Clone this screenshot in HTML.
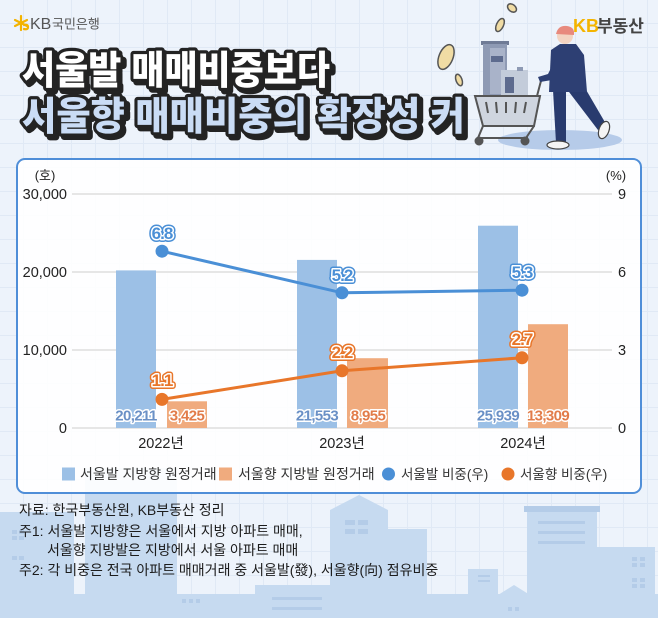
<!DOCTYPE html>
<html><head><meta charset="utf-8"><style>
html,body{margin:0;padding:0;background:#edf3fb;}
svg{display:block;}
text{font-family:"Liberation Sans","Noto Sans CJK KR",sans-serif;}
</style></head><body>
<svg width="658" height="618" viewBox="0 0 658 618" xmlns="http://www.w3.org/2000/svg">
<defs>
<pattern id="grid" width="24" height="24" patternUnits="userSpaceOnUse">
<rect width="24" height="24" fill="#edf3fb"/>
<path d="M23.5 0V24M0 23.5H24" stroke="#e0e9f5" stroke-width="1"/>
</pattern>
</defs>
<rect width="658" height="618" fill="url(#grid)"/>

<!-- skyline -->
<g fill="#c6daf0">
<rect x="0" y="512" width="74" height="106"/>
<rect x="85" y="468" width="92" height="150"/>
<rect x="0" y="594" width="658" height="24"/>
<rect x="255" y="585" width="75" height="33"/>
<polygon points="330,510 359,495 388,510 388,618 330,618"/>
<rect x="388" y="529" width="39" height="89"/>
<rect x="427" y="598" width="41" height="20"/>
<rect x="468" y="569" width="30" height="49"/>
<polygon points="498,595 514,585 530,595 530,618 498,618"/>
<rect x="527" y="509" width="70" height="109"/>
<rect x="597" y="547" width="58" height="71"/>
</g>
<g fill="#b4cce8">
<rect x="524" y="506" width="76" height="6"/>
<rect x="538" y="521" width="47" height="3"/>
<rect x="538" y="531" width="47" height="3"/>
<rect x="538" y="541" width="47" height="3"/>
<rect x="345" y="520" width="10" height="5"/><rect x="358" y="520" width="10" height="5"/>
<rect x="345" y="529" width="10" height="5"/><rect x="358" y="529" width="10" height="5"/>
<rect x="632" y="557" width="5" height="4"/><rect x="640" y="557" width="5" height="4"/>
<rect x="632" y="563" width="5" height="4"/><rect x="640" y="563" width="5" height="4"/>
<rect x="632" y="578" width="5" height="4"/><rect x="640" y="578" width="5" height="4"/>
<rect x="632" y="584" width="5" height="4"/><rect x="640" y="584" width="5" height="4"/>
<rect x="12" y="530" width="5" height="4"/><rect x="19" y="530" width="5" height="4"/>
<rect x="12" y="536" width="5" height="4"/><rect x="19" y="536" width="5" height="4"/>
<rect x="12" y="556" width="5" height="4"/><rect x="19" y="556" width="5" height="4"/>
<rect x="272" y="597" width="50" height="3"/><rect x="272" y="607" width="50" height="3"/>
<rect x="478" y="575" width="12" height="2"/><rect x="478" y="580" width="12" height="2"/>
<rect x="182" y="599" width="4" height="4"/><rect x="189" y="599" width="4" height="4"/><rect x="196" y="599" width="4" height="4"/>
<rect x="508" y="607" width="4" height="4"/><rect x="515" y="607" width="4" height="4"/>
</g>

<!-- header logos -->
<g stroke="#f3b300" stroke-width="2.2" stroke-linecap="round" fill="none">
<line x1="21" y1="16" x2="21" y2="30"/>
<line x1="15" y1="20" x2="27" y2="26"/>
<line x1="15" y1="26" x2="27" y2="20"/>
<path d="M24 25 q4 -1 4 2 q0 3 -4 2"/>
</g>
<text x="30" y="29" font-size="16" fill="#555">KB</text>
<text x="52" y="28.5" font-size="13" fill="#555">국민은행</text>

<text x="573" y="32" font-size="18" font-weight="bold" fill="#f4b400">KB</text>
<text x="597" y="32" font-size="17" font-weight="bold" fill="#444">부동산</text>

<!-- title -->
<g font-weight="900" font-size="39" stroke-linejoin="round">
<text x="25" y="87" textLength="308" lengthAdjust="spacingAndGlyphs" fill="#232323" stroke="#232323" stroke-width="7">서울발 매매비중보다</text>
<text x="22" y="84" textLength="308" lengthAdjust="spacingAndGlyphs" fill="#ffffff" stroke="#232323" stroke-width="6.5" paint-order="stroke">서울발 매매비중보다</text>
<text x="25" y="133" textLength="443" lengthAdjust="spacingAndGlyphs" fill="#232323" stroke="#232323" stroke-width="7">서울향 매매비중의 확장성 커</text>
<text x="22" y="130" textLength="443" lengthAdjust="spacingAndGlyphs" fill="#cadcf5" stroke="#232323" stroke-width="6.5" paint-order="stroke">서울향 매매비중의 확장성 커</text>
</g>

<!-- illustration -->
<ellipse cx="560" cy="140" rx="62" ry="10" fill="#b6cbe9"/>
<g stroke="#555" stroke-width="1.5" fill="#f0dca4">
<ellipse cx="512" cy="8" rx="3.5" ry="5" transform="rotate(-50 512 8)"/>
<ellipse cx="500" cy="25" rx="3.5" ry="7" transform="rotate(25 500 25)"/>
<ellipse cx="446" cy="57" rx="7" ry="13" transform="rotate(22 446 57)"/>
<ellipse cx="459" cy="80" rx="3" ry="6" transform="rotate(-20 459 80)"/>
</g>
<rect x="481" y="41" width="28" height="4" fill="#6f7b96"/>
<rect x="483" y="44" width="24" height="52" fill="#8e9ab4"/>
<rect x="490" y="48" width="15" height="46" fill="#a9b3c9"/>
<rect x="491" y="56" width="12" height="6" fill="#5d6b8e"/>
<rect x="501" y="70" width="27" height="26" fill="#c3ccda"/>
<rect x="505" y="77" width="9" height="16" fill="#5d6b8e"/>
<rect x="517" y="67" width="6" height="4" fill="#8e9ab4"/>
<polygon points="475,96 540,96 534,126 483,126" fill="#cfd5df" stroke="#555" stroke-width="2"/>
<g stroke="#555" stroke-width="2" fill="#555">
<line x1="486" y1="102" x2="488" y2="113"/><line x1="496" y1="102" x2="497" y2="113"/>
<line x1="506" y1="102" x2="506" y2="113"/><line x1="516" y1="102" x2="515" y2="113"/>
<line x1="526" y1="102" x2="524" y2="113"/>
<line x1="483" y1="126" x2="478" y2="138"/><line x1="534" y1="126" x2="526" y2="138"/>
<line x1="478" y1="138" x2="528" y2="138"/>
<line x1="537" y1="96" x2="542" y2="77"/>
<circle cx="479" cy="141" r="3.5"/><circle cx="525" cy="141" r="3.5"/>
</g>
<polygon points="553,90 566,90 566,143 556,143" fill="#293b6e"/>
<polygon points="566,88 585,88 606,124 598,130" fill="#293b6e"/>
<polygon points="549,92 551,50 560,44 576,44 584,55 587,92" fill="#2d3f73"/>
<polygon points="555,60 548,74 538,77 540,82 552,80 562,66" fill="#2d3f73"/>
<ellipse cx="558" cy="145" rx="11" ry="4" fill="#f4f4f4" stroke="#444" stroke-width="1.2"/>
<ellipse cx="604" cy="130" rx="5" ry="9" fill="#f4f4f4" stroke="#444" stroke-width="1.2" transform="rotate(20 604 130)"/>
<circle cx="565" cy="36" r="8" fill="#f3d4c2"/>
<path d="M556 34 q2 -9 11 -8 q8 1 7 9 z" fill="#e88a7e"/>

<!-- panel -->
<rect x="17" y="159" width="624" height="334" rx="8" fill="#ffffff" fill-opacity="0.9" stroke="#4f8ed8" stroke-width="2"/>

<!-- gridlines -->
<g stroke="#dedede" stroke-width="1.5">
<line x1="72" y1="194" x2="612" y2="194"/>
<line x1="72" y1="272" x2="612" y2="272"/>
<line x1="72" y1="350" x2="612" y2="350"/>
<line x1="72" y1="428" x2="612" y2="428"/>
</g>

<!-- axis labels -->
<g font-size="14.5" fill="#222">
<text x="45" y="180" text-anchor="middle" font-size="13">(호)</text>
<text x="616" y="180" text-anchor="middle" font-size="13">(%)</text>
<text x="67" y="199" text-anchor="end">30,000</text>
<text x="67" y="277" text-anchor="end">20,000</text>
<text x="67" y="355" text-anchor="end">10,000</text>
<text x="67" y="433" text-anchor="end">0</text>
<text x="618" y="199">9</text>
<text x="618" y="277">6</text>
<text x="618" y="355">3</text>
<text x="618" y="433">0</text>
<text x="161" y="448" text-anchor="middle">2022년</text>
<text x="342" y="448" text-anchor="middle">2023년</text>
<text x="523" y="448" text-anchor="middle">2024년</text>
</g>

<!-- bars -->
<g fill="#9cc0e6">
<rect x="116" y="270.4" width="40" height="157.6"/>
<rect x="297" y="259.9" width="40" height="168.1"/>
<rect x="478" y="225.7" width="40" height="202.3"/>
</g>
<g fill="#f0ab7e">
<rect x="167" y="401.3" width="40" height="26.7"/>
<rect x="347" y="358.2" width="41" height="69.8"/>
<rect x="528" y="324.2" width="40" height="103.8"/>
</g>

<!-- bar value labels -->
<g font-size="15" font-weight="bold" text-anchor="middle" stroke="#ffffff" stroke-width="3" paint-order="stroke" stroke-linejoin="round" letter-spacing="-0.6">
<text x="136" y="420.5" fill="#6a90c6">20,211</text>
<text x="317" y="420.5" fill="#6a90c6">21,553</text>
<text x="498" y="420.5" fill="#6a90c6">25,939</text>
<text x="187" y="420.5" fill="#e27c4a">3,425</text>
<text x="368" y="420.5" fill="#e27c4a">8,955</text>
<text x="548" y="420.5" fill="#e27c4a">13,309</text>
</g>

<!-- lines -->
<polyline points="162,251.2 342,292.8 522,290.2" fill="none" stroke="#4a8fd6" stroke-width="3"/>
<polyline points="162,399.4 342,370.8 522,357.8" fill="none" stroke="#e8762a" stroke-width="3"/>
<g fill="#4a8fd6">
<circle cx="162" cy="251.2" r="6.5"/><circle cx="342" cy="292.8" r="6.5"/><circle cx="522" cy="290.2" r="6.5"/>
</g>
<g fill="#e8762a">
<circle cx="162" cy="399.4" r="6.5"/><circle cx="342" cy="370.8" r="6.5"/><circle cx="522" cy="357.8" r="6.5"/>
</g>

<!-- dot labels -->
<g font-size="17" font-weight="bold" text-anchor="middle" stroke-linejoin="round" letter-spacing="-1">
<g stroke="#4a8fd6" stroke-width="6" fill="#4a8fd6">
<text x="162" y="239">6.8</text><text x="342" y="281">5.2</text><text x="522" y="278">5.3</text>
</g>
<g stroke="#ffffff" stroke-width="3" fill="#4a8fd6" paint-order="stroke">
<text x="162" y="239">6.8</text><text x="342" y="281">5.2</text><text x="522" y="278">5.3</text>
</g>
<g stroke="#e8762a" stroke-width="6" fill="#e8762a">
<text x="162" y="386">1.1</text><text x="342" y="358">2.2</text><text x="522" y="345">2.7</text>
</g>
<g stroke="#ffffff" stroke-width="3" fill="#e8762a" paint-order="stroke">
<text x="162" y="386">1.1</text><text x="342" y="358">2.2</text><text x="522" y="345">2.7</text>
</g>
</g>

<!-- legend -->
<rect x="62" y="467.5" width="13" height="13" fill="#9cc0e6"/>
<rect x="219" y="467.5" width="13" height="13" fill="#f0ab7e"/>
<circle cx="388.5" cy="474" r="6.5" fill="#4a8fd6"/>
<circle cx="508" cy="474" r="6.5" fill="#e8762a"/>
<g font-size="14" fill="#333">
<text x="80" y="479">서울발 지방향 원정거래</text>
<text x="238" y="479">서울향 지방발 원정거래</text>
<text x="401" y="479" font-size="13.5">서울발 비중(우)</text>
<text x="520" y="479" font-size="13.5">서울향 비중(우)</text>
</g>

<!-- footnotes -->
<g font-size="14" fill="#1c1c1c">
<text x="19" y="515">자료: 한국부동산원, KB부동산 정리</text>
<text x="19" y="536">주1: 서울발 지방향은 서울에서 지방 아파트 매매,</text>
<text x="47" y="555">서울향 지방발은 지방에서 서울 아파트 매매</text>
<text x="19" y="575">주2: 각 비중은 전국 아파트 매매거래 중 서울발(發), 서울향(向) 점유비중</text>
</g>
</svg>
</body></html>
